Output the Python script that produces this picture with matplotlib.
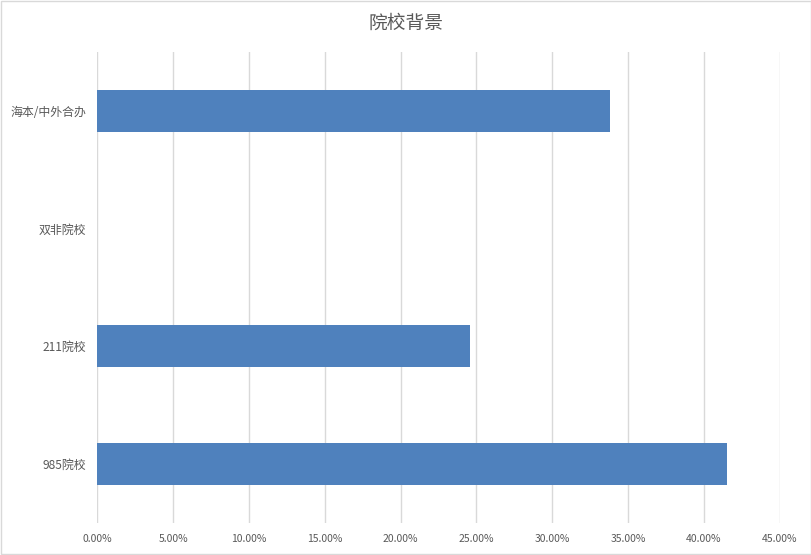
import matplotlib.pyplot as plt
from matplotlib.patches import Rectangle
from matplotlib.ticker import FuncFormatter

plt.rcParams['font.family'] = ['Noto Sans CJK SC', 'DejaVu Sans']

# 数据（自下而上）
categories = ['985院校', '211院校', '双非院校', '海本/中外合办']
shares = [41.50, 24.56, 0.0, 33.79]
x_ticks = [0, 5, 10, 15, 20, 25, 30, 35, 40, 45]

fig = plt.figure(figsize=(8.12, 5.55), dpi=100)
ax = fig.add_axes([0.1198, 0.0577, 0.8404, 0.8486])

ax.barh(categories, shares, height=0.357, color='#4F81BD', zorder=3)

ax.set_xlim(0, 45)
ax.set_ylim(-0.5, len(categories) - 0.5)
ax.set_xticks(x_ticks)
ax.xaxis.set_major_formatter(FuncFormatter(lambda v, p: f'{v:.2f}%'))
ax.grid(axis='x', color='#D9D9D9', linewidth=1, zorder=0)
ax.grid(axis='y', visible=False)
for s in ax.spines.values():
    s.set_visible(False)
ax.tick_params(axis='both', length=0, colors='#595959')
ax.tick_params(axis='x', labelsize=7.5, pad=8)
ax.tick_params(axis='y', labelsize=8.6, pad=8)

fig.text(0.5, 0.958, '院校背景', ha='center', va='center', fontsize=13.5, color='#595959')

# 图表外框
fig.patches.append(Rectangle((0.001, 0.001), 0.998, 0.997, transform=fig.transFigure,
                             fill=False, edgecolor='#D9D9D9', linewidth=1))

fig.savefig('out.png', dpi=100)
